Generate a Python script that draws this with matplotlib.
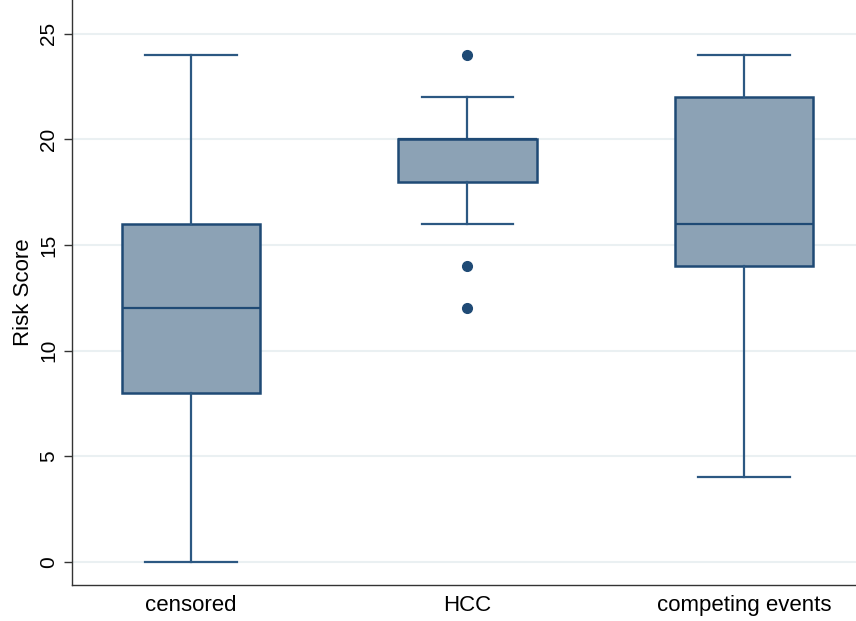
import matplotlib.pyplot as plt

plt.rcParams['font.family'] = ['Liberation Sans', 'DejaVu Sans']

# box plot data
groups = ['censored', 'HCC', 'competing events']
whis_lo = [0, 16, 4]
q1 = [8, 18, 14]
med = [12, 20, 16]
q3 = [16, 20, 22]
whis_hi = [24, 22, 24]
outliers = [[], [24, 14, 12], []]
yticks = [0, 5, 10, 15, 20, 25]

edge = '#1f4a75'
fill = '#8ca2b5'

stats = []
for i, g in enumerate(groups):
    stats.append(dict(label=g, whislo=whis_lo[i], q1=q1[i], med=med[i],
                      q3=q3[i], whishi=whis_hi[i], fliers=outliers[i]))

fig = plt.figure(figsize=(8.56, 6.21), dpi=100)
ax = fig.add_axes([72 / 856, 36 / 621, 784 / 856, 585 / 621])

ax.bxp(stats, positions=[1, 2, 3], widths=0.5, patch_artist=True,
       boxprops=dict(facecolor=fill, edgecolor=edge, linewidth=1.8),
       medianprops=dict(color=edge, linewidth=1.6),
       whiskerprops=dict(color='#2c5882', linewidth=1.6),
       capprops=dict(color='#2c5882', linewidth=1.6),
       capwidths=0.33,
       flierprops=dict(marker='o', markerfacecolor=edge, markeredgecolor=edge,
                       markersize=7))

ax.set_xlim(0.57, 3.405)
ax.set_ylim(-1.1, 26.6)
ax.set_yticks(yticks)
ax.set_yticklabels([str(t) for t in yticks], rotation=90, va='center', fontsize=15)
ax.tick_params(axis='x', length=0, labelsize=16, pad=7)
ax.tick_params(axis='y', length=6, width=1, color='#333333', pad=4)
ax.yaxis.grid(True, color='#eaf0f2', linewidth=1.5)
ax.set_axisbelow(True)
ax.set_ylabel('Risk Score', fontsize=16, labelpad=4)

ax.spines['top'].set_visible(False)
ax.spines['right'].set_visible(False)
for s in ['left', 'bottom']:
    ax.spines[s].set_color('#333333')
    ax.spines[s].set_linewidth(1)

fig.savefig('out.png', dpi=100, facecolor='white')
